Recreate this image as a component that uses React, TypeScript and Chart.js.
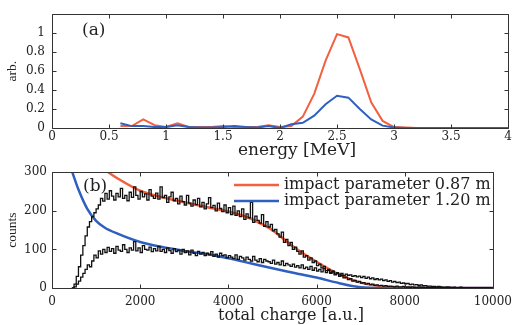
import { useEffect, useRef } from 'react';
import { Chart, registerables } from 'chart.js';
Chart.register(...registerables);

// ---------- panel (a): energy spectra ----------
const energy = [0.6, 0.7, 0.8, 0.9, 1.0, 1.1, 1.2, 1.3, 1.4, 1.5, 1.6, 1.7, 1.8, 1.9, 2.0, 2.1, 2.2, 2.3, 2.4, 2.5, 2.6, 2.7, 2.8, 2.9, 3.0, 3.1, 3.2, 3.3, 3.4, 3.5, 3.6, 3.7, 3.8, 3.9, 4.0];
const spectrum087 = [0.02, 0.02, 0.09, 0.03, 0.01, 0.05, 0.01, 0.01, 0.01, 0.02, 0.01, 0.01, 0.01, 0.03, 0.01, 0.02, 0.12, 0.36, 0.71, 0.99, 0.955, 0.62, 0.27, 0.075, 0.01, 0.005, 0, 0, 0, 0, 0, 0, 0, 0, 0];
const spectrum120 = [0.05, 0.02, 0.02, 0.01, 0.01, 0.03, 0.01, 0.005, 0.005, 0.01, 0.02, 0.01, 0.005, 0.02, 0.0, 0.04, 0.055, 0.13, 0.25, 0.34, 0.32, 0.2, 0.09, 0.025, 0.005, 0, 0, 0, 0, 0, 0, 0, 0, 0, 0];

// ---------- panel (b): charge histograms ----------
const binStart = 450;
const binWidth = 50;
const hist087 = [
  0, 0, 10, 30, 55, 85, 110, 135, 158, 172,
  185, 195, 205, 215, 232, 225, 245, 230, 252, 238,
  228, 245, 236, 258, 232, 240, 226, 248, 235, 262,
  240, 230, 250, 236, 244, 228, 255, 238, 232, 246,
  230, 262, 234, 240, 222, 236, 248, 226, 232, 218,
  238, 224, 215, 240, 220, 212, 228, 216, 232, 210,
  222, 205, 218, 234, 208, 214, 200, 220, 206, 198,
  215, 195, 208, 190, 212, 188, 200, 185, 205, 178,
  192, 182, 222, 170, 186, 175, 168, 190, 160, 172,
  158, 165, 148, 152, 140, 132, 145, 118, 126, 110,
  118, 100, 106, 95, 88, 96, 80, 84, 72, 78,
  66, 70, 58, 62, 52, 56, 45, 48, 40, 42,
  34, 38, 30, 33, 26, 28, 22, 24, 18, 20,
  15, 17, 13, 14, 10, 12, 9, 10, 7, 8,
  6, 7, 5, 6, 4, 5, 4, 3, 5, 3,
  3, 4, 2, 3, 2, 3, 2, 1, 3, 2,
  2, 1, 2, 1, 1, 2, 1, 0, 1, 1,
  1, 0, 1, 1, 0, 1, 0, 1, 0, 1,
  0, 1, 0, 0, 1, 0, 1, 0, 0, 1,
  0, 0,
];
const hist120 = [
  0, 0, 3, 10, 18, 28, 38, 48, 60, 55,
  70, 85, 78, 96, 88, 100, 92, 105, 95, 102,
  90, 108, 98, 95, 112, 100, 92, 104, 98, 120,
  96, 104, 92, 110, 100, 98, 106, 94, 102, 96,
  108, 95, 100, 92, 104, 97, 90, 102, 94, 98,
  88, 100, 92, 96, 86, 98, 90, 84, 95, 88,
  92, 84, 90, 86, 94, 82, 88, 80, 90, 84,
  86, 78, 84, 80, 76, 86, 74, 82, 78, 72,
  80, 74, 70, 82, 72, 68, 76, 66, 74, 70,
  68, 64, 72, 62, 66, 60, 70, 58, 64, 60,
  56, 62, 54, 58, 52, 60, 50, 54, 48, 56,
  46, 52, 44, 48, 42, 50, 40, 46, 38, 44,
  36, 40, 34, 38, 32, 36, 33, 34, 30, 32,
  29, 31, 27, 30, 25, 28, 24, 26, 22, 24,
  21, 23, 19, 21, 17, 19, 15, 17, 14, 15,
  12, 13, 11, 12, 9, 10, 8, 9, 7, 8,
  6, 6, 5, 5, 4, 4, 3, 4, 3, 2,
  2, 3, 2, 1, 2, 1, 1, 2, 1, 0,
  1, 0, 0, 1, 0, 0, 1, 0, 1, 0,
  0, 0,
];
const fit087X = [1275, 1500, 2000, 2500, 3000, 3500, 4000, 4500, 4750, 5000, 5250, 5500, 6000, 6500, 7000, 7500, 8000, 8500, 10000];
const fit087Y = [300, 283, 252, 235, 222, 210, 198, 180, 166, 150, 127, 105, 68, 36, 14, 4, 0.5, 0, 0];
const fit120X = [460, 600, 800, 1000, 1200, 1500, 2000, 2500, 3000, 3500, 4000, 4500, 5000, 5500, 6000, 6500, 7000, 7500, 10000];
const fit120Y = [300, 255, 205, 174, 156, 140, 119, 106, 96, 88, 77, 64, 51, 39, 27, 13, 2, 0, 0];

const legendLabels = ['impact parameter 0.87 m', 'impact parameter 1.20 m'];
const xTicksA = [0, 0.5, 1, 1.5, 2, 2.5, 3, 3.5, 4];
const xTicksB = [0, 2000, 4000, 6000, 8000, 10000];

const ORANGE = '#f2603f';
const BLUE = '#2f5fc0';
const INK = '#222';
const SERIF = '"DejaVu Serif", serif';
const TSERIF = '"Liberation Serif", serif';

function framePlugin(opts: {
  label: string;
  labelDx: number;
  labelDy: number;
  xTitle: string;
  xTitleX: number;
  xTitleY: number;
  xTitleSize: number;
  legend?: boolean;
}) {
  return {
    id: 'frame',
    afterDraw(chart: any) {
      const { ctx, chartArea: a, scales } = chart;
      const xs = scales.x;
      const ys = scales.y;
      ctx.save();
      ctx.strokeStyle = '#333';
      ctx.lineWidth = 1;
      const L = Math.round(a.left) + 0.5;
      const R = Math.round(a.right) + 0.5;
      const T = Math.round(a.top) + 0.5;
      const B = Math.round(a.bottom) + 0.5;
      ctx.beginPath();
      ctx.rect(L, T, R - L, B - T);
      const tl = 4;
      xs.ticks.forEach((t: any) => {
        const px = Math.round(xs.getPixelForValue(t.value)) + 0.5;
        ctx.moveTo(px, B);
        ctx.lineTo(px, B - tl);
        ctx.moveTo(px, T);
        ctx.lineTo(px, T + tl);
      });
      ys.ticks.forEach((t: any) => {
        const py = Math.round(ys.getPixelForValue(t.value)) + 0.5;
        ctx.moveTo(L, py);
        ctx.lineTo(L + tl, py);
        ctx.moveTo(R, py);
        ctx.lineTo(R - tl, py);
      });
      ctx.stroke();

      ctx.fillStyle = INK;
      ctx.textBaseline = 'middle';
      ctx.textAlign = 'left';
      ctx.font = `17px ${SERIF}`;
      ctx.fillText(opts.label, a.left + opts.labelDx, a.top + opts.labelDy);

      ctx.textAlign = 'center';
      ctx.font = `${opts.xTitleSize}px ${SERIF}`;
      ctx.fillText(opts.xTitle, opts.xTitleX, opts.xTitleY);

      if (opts.legend) {
        const colors = [ORANGE, BLUE];
        const rows = [185, 201];
        ctx.font = `16px ${SERIF}`;
        ctx.textAlign = 'left';
        legendLabels.forEach((lab, i) => {
          const y = rows[i] - 160;
          ctx.strokeStyle = colors[i];
          ctx.lineWidth = 2.5;
          ctx.beginPath();
          ctx.moveTo(234, y);
          ctx.lineTo(279, y);
          ctx.stroke();
          ctx.fillStyle = INK;
          ctx.fillText(lab, 284, y);
        });
      }
      ctx.restore();
    },
  };
}

function fmt(v: number) {
  return String(Number(v.toFixed(2)));
}

export default function App() {
  const refA = useRef<HTMLCanvasElement>(null);
  const refB = useRef<HTMLCanvasElement>(null);

  useEffect(() => {
    document.body.style.margin = '0';
    const ptsA1 = energy.map((e, i) => ({ x: e, y: spectrum087[i] }));
    const ptsA2 = energy.map((e, i) => ({ x: e, y: spectrum120[i] }));

    const chartA = new Chart(refA.current!, {
      type: 'line',
      data: {
        datasets: [
          { data: ptsA2, borderColor: BLUE, borderWidth: 2, pointRadius: 0, fill: false },
          { data: ptsA1, borderColor: ORANGE, borderWidth: 2, pointRadius: 0, fill: false },
        ],
      },
      options: {
        responsive: false,
        animation: false,
        layout: { padding: { top: 10, right: 11, left: 0, bottom: 0 } },
        plugins: { legend: { display: false }, tooltip: { enabled: false } },
        scales: {
          x: {
            type: 'linear',
            min: 0,
            max: 4,
            afterBuildTicks: (s: any) => { s.ticks = xTicksA.map((v) => ({ value: v })); },
            afterFit: (s: any) => { s.height = 38; },
            grid: { display: false, drawTicks: false },
            border: { display: false },
            ticks: { padding: 2, color: INK, font: { family: SERIF, size: 12 }, callback: (v: any) => fmt(Number(v)), maxRotation: 0, autoSkip: false },
          },
          y: {
            type: 'linear',
            min: 0,
            max: 1.2,
            ticks: {
              stepSize: 0.2,
              padding: 7,
              color: INK,
              font: { family: SERIF, size: 12 },
              callback: (v: any) => (Number(v) > 1.05 ? '' : fmt(Number(v))),
            },
            afterFit: (s: any) => { s.width = 52; },
            grid: { display: false, drawTicks: false },
            border: { display: false },
            title: { display: true, text: 'arb.', color: INK, font: { family: TSERIF, size: 13.5 }, padding: { top: 4, bottom: 0 } },
          },
        },
      },
      plugins: [framePlugin({ label: '(a)', labelDx: 30, labelDy: 16, xTitle: 'energy [MeV]', xTitleX: 297, xTitleY: 151, xTitleSize: 17 })],
    } as any);

    const edges = hist087.map((_, i) => binStart + i * binWidth);
    const h1 = hist087.map((v, i) => ({ x: edges[i], y: v }));
    const h2 = hist120.map((v, i) => ({ x: edges[i], y: v }));
    const f1 = fit087X.map((x, i) => ({ x, y: fit087Y[i] }));
    const f2 = fit120X.map((x, i) => ({ x, y: fit120Y[i] }));

    const chartB = new Chart(refB.current!, {
      type: 'line',
      data: {
        datasets: [
          { data: h1, borderColor: '#111', borderWidth: 1.3, pointRadius: 0, stepped: 'after', fill: false },
          { data: h2, borderColor: '#111', borderWidth: 1.3, pointRadius: 0, stepped: 'after', fill: false },
          { data: f2, borderColor: BLUE, borderWidth: 2.5, pointRadius: 0, cubicInterpolationMode: 'monotone', fill: false },
          { data: f1, borderColor: ORANGE, borderWidth: 2.5, pointRadius: 0, cubicInterpolationMode: 'monotone', fill: false },
        ],
      },
      options: {
        responsive: false,
        animation: false,
        layout: { padding: { top: 12, right: 11, left: 0, bottom: 0 } },
        plugins: { legend: { display: false }, tooltip: { enabled: false } },
        scales: {
          x: {
            type: 'linear',
            min: 0,
            max: 10000,
            afterBuildTicks: (s: any) => { s.ticks = xTicksB.map((v) => ({ value: v })); },
            afterFit: (s: any) => { s.height = 37; },
            grid: { display: false, drawTicks: false },
            border: { display: false },
            ticks: { padding: 7, color: INK, font: { family: SERIF, size: 12 }, callback: (v: any) => String(v), maxRotation: 0, autoSkip: false },
          },
          y: {
            type: 'linear',
            min: 0,
            max: 300,
            ticks: { stepSize: 100, padding: 5, color: INK, font: { family: SERIF, size: 12 }, callback: (v: any) => String(v) },
            afterFit: (s: any) => { s.width = 52; },
            grid: { display: false, drawTicks: false },
            border: { display: false },
            title: { display: true, text: 'counts', color: INK, font: { family: TSERIF, size: 13.5 }, padding: { top: 4, bottom: 0 } },
          },
        },
      },
      plugins: [framePlugin({ label: '(b)', labelDx: 31, labelDy: 14, xTitle: 'total charge [a.u.]', xTitleX: 291, xTitleY: 156, xTitleSize: 16, legend: true })],
    } as any);

    return () => {
      chartA.destroy();
      chartB.destroy();
    };
  }, []);

  return (
    <div style={{ position: 'absolute', left: 0, top: 0, width: 519, height: 325, background: '#fff' }}>
      <canvas ref={refA} width={519} height={166} style={{ position: 'absolute', left: 0, top: 0 }} />
      <canvas ref={refB} width={519} height={165} style={{ position: 'absolute', left: 0, top: 160 }} />
    </div>
  );
}
